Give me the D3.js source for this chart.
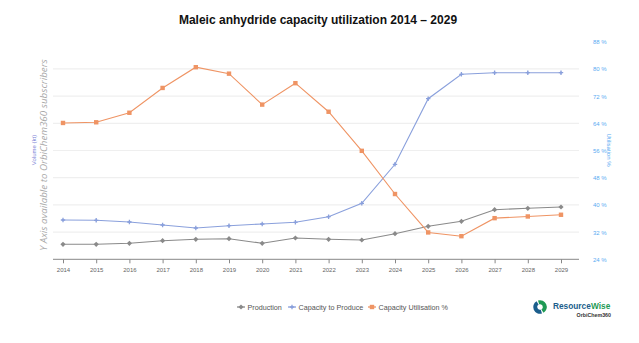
<!DOCTYPE html>
<html>
<head>
<meta charset="utf-8">
<script src="https://cdn.jsdelivr.net/npm/d3@7"></script>
<style>
  body { margin: 0; background: #fff; }
  svg text { font-family: "Liberation Sans", Arial, sans-serif; }
</style>
</head>
<body>
<div id="chart"></div>
<script>
// chart data
const years = [2014, 2015, 2016, 2017, 2018, 2019, 2020, 2021, 2022, 2023, 2024, 2025, 2026, 2027, 2028, 2029];
const production = [1551, 1551, 1588, 1684, 1735, 1757, 1588, 1783, 1735, 1710, 1941, 2213, 2397, 2824, 2875, 2923];
const capacity = [2445, 2434, 2371, 2261, 2151, 2235, 2298, 2360, 2566, 3059, 4493, 6904, 7801, 7860, 7860, 7860];
const utilisation = [64.1, 64.3, 67.1, 74.4, 80.5, 78.6, 69.5, 75.8, 67.4, 55.9, 43.2, 31.9, 30.8, 36.1, 36.6, 37.1];
const pctTicks = [24, 32, 40, 48, 56, 64, 72, 80, 88];
const seriesNames = ["Production", "Capacity to Produce", "Capacity Utilisation %"];

const W = 639, H = 343;
const svg = d3.select("#chart").append("svg")
  .attr("width", W)
  .attr("height", H);

const plotLeft = 63, plotRight = 561, plotTop = 41.7, plotBottom = 259.3;

const x = d3.scalePoint().domain(years).range([plotLeft, plotRight]);
const yPct = d3.scaleLinear().domain([24, 88]).range([plotBottom, plotTop]);
// left axis is hidden in the source, kt scale spans same height
const yVol = d3.scaleLinear().domain([1000, 9000]).range([plotBottom, plotTop]);

// title
svg.append("text")
  .attr("x", 318).attr("y", 24)
  .attr("text-anchor", "middle")
  .attr("font-size", 12)
  .attr("font-weight", "bold")
  .attr("fill", "#111")
  .text("Maleic anhydride capacity utilization 2014 \u2013 2029");

// gridlines
svg.append("g")
  .selectAll("line")
  .data(pctTicks.filter(d => d > 24 && d < 88))
  .join("line")
  .attr("x1", plotLeft - 10).attr("x2", plotRight + 18)
  .attr("y1", d => yPct(d)).attr("y2", d => yPct(d))
  .attr("stroke", "#efefef")
  .attr("stroke-width", 1.2);

// x axis
const xAxis = svg.append("g")
  .attr("transform", `translate(0,${plotBottom})`)
  .call(d3.axisBottom(x).tickSize(4).tickPadding(4));
xAxis.select(".domain").attr("d", `M${plotLeft - 10},0H${plotRight + 18}`).attr("stroke", "#888");
xAxis.selectAll(".tick line").attr("stroke", "#888");
xAxis.selectAll("text").attr("font-size", 6).attr("fill", "#666")
  .style("font-family", "Liberation Sans, Arial, sans-serif");

// right % axis
const yAxisR = svg.append("g")
  .attr("transform", `translate(${plotRight + 30},0)`)
  .call(d3.axisRight(yPct).tickValues(pctTicks).tickSize(0).tickPadding(2).tickFormat(d => d + " %"));
yAxisR.select(".domain").remove();
yAxisR.selectAll("text").attr("font-size", 6).attr("fill", "#5aabf2")
  .style("font-family", "Liberation Sans, Arial, sans-serif");

svg.append("text")
  .attr("transform", `translate(607,150) rotate(90)`)
  .attr("text-anchor", "middle")
  .attr("font-size", 6)
  .attr("fill", "#5aabf2")
  .text("Utilisation %");

// left axis labels
svg.append("text")
  .attr("transform", `translate(36,150) rotate(-90)`)
  .attr("text-anchor", "middle")
  .attr("font-size", 6)
  .attr("fill", "#7b7fd6")
  .text("Volume (kt)");

svg.append("text")
  .attr("transform", `translate(47,155) rotate(-90)`)
  .attr("text-anchor", "middle")
  .attr("font-size", 9.8)
  .attr("font-style", "italic")
  .attr("fill", "#a8a8a8")
  .style("font-family", "Open Sans, sans-serif")
  .text("Y Axis available to OrbiChem360 subscribers");

// series
const series = [
  { name: seriesNames[0], vals: production, y: yVol, color: "#8a8a8a", marker: "diamond" },
  { name: seriesNames[1], vals: capacity, y: yVol, color: "#8aa0dc", marker: "cross" },
  { name: seriesNames[2], vals: utilisation, y: yPct, color: "#ef9464", marker: "square" }
];

function drawMarker(g, type, color) {
  if (type === "square") {
    g.append("rect").attr("x", -2.2).attr("y", -2.2).attr("width", 4.4).attr("height", 4.4).attr("fill", color);
  } else if (type === "diamond") {
    g.append("path").attr("d", "M0,-2.6L2.6,0L0,2.6L-2.6,0Z").attr("fill", color);
  } else {
    g.append("path").attr("d", "M-2.2,0H2.2M0,-2.2V2.2").attr("stroke", color).attr("stroke-width", 1.3);
    g.append("circle").attr("r", 1.1).attr("fill", color);
  }
}

series.forEach(s => {
  const line = d3.line().x((d, i) => x(years[i])).y(d => s.y(d));
  svg.append("path")
    .datum(s.vals)
    .attr("d", line)
    .attr("fill", "none")
    .attr("stroke", s.color)
    .attr("stroke-width", 1.1);
  s.vals.forEach((v, i) => {
    const g = svg.append("g").attr("transform", `translate(${x(years[i])},${s.y(v)})`);
    drawMarker(g, s.marker, s.color);
  });
});

// legend
const legendX = [241, 292, 372];
series.forEach((s, i) => {
  const g = svg.append("g").attr("transform", `translate(${legendX[i]},307)`);
  g.append("line").attr("x1", -4).attr("x2", 4).attr("stroke", s.color).attr("stroke-width", 1.3);
  drawMarker(g, s.marker, s.color);
  g.append("text")
    .attr("x", 6.5).attr("y", 2.5)
    .attr("font-size", 7.2)
    .attr("fill", "#555")
    .text(s.name);
});

// logo
const logo = svg.append("g").attr("transform", "translate(540,307)");
logo.append("path")
  .attr("d", d3.arc()({ innerRadius: 2.8, outerRadius: 6.8, startAngle: -0.3, endAngle: 2.6 }))
  .attr("fill", "#1f9a54");
logo.append("path")
  .attr("d", d3.arc()({ innerRadius: 2.8, outerRadius: 6.8, startAngle: 2.85, endAngle: 5.75 }))
  .attr("fill", "#1b5e8c");
svg.append("text")
  .attr("x", 553).attr("y", 309)
  .attr("font-size", 8.3)
  .attr("font-weight", "bold")
  .attr("fill", "#1b5e8c")
  .text("Resource");
svg.append("text")
  .attr("x", 591).attr("y", 309)
  .attr("font-size", 8.3)
  .attr("font-weight", "bold")
  .attr("fill", "#1f9a54")
  .text("Wise");
svg.append("text")
  .attr("x", 611).attr("y", 316.5)
  .attr("text-anchor", "end")
  .attr("font-size", 5.3)
  .attr("font-weight", "bold")
  .attr("fill", "#333")
  .text("OrbiChem360");
</script>
</body>
</html>
